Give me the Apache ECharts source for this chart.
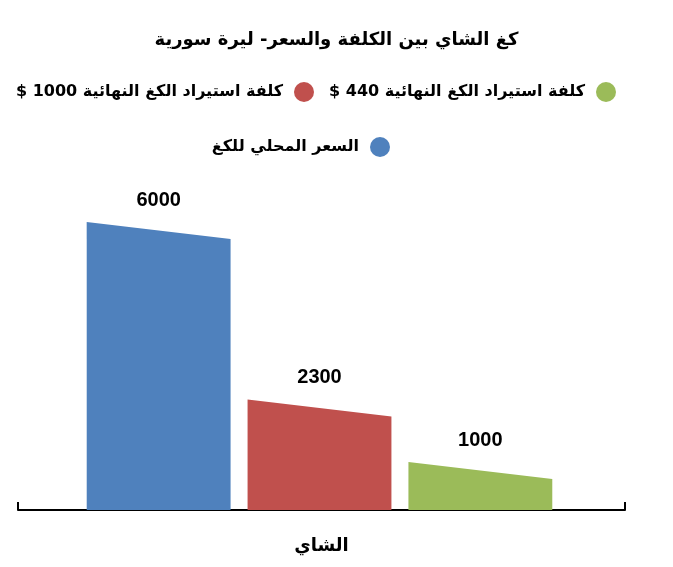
<!DOCTYPE html>
<html>
<head>
<meta charset="utf-8">
<script src="https://cdn.jsdelivr.net/npm/echarts@6/dist/echarts.min.js"></script>
<style>
    html, body { margin: 0; padding: 0; background: #fff; }
    #chart { width: 673px; height: 567px; }
</style>
</head>
<body>
<div id="chart"></div>
<script>
const categories = ['الشاي'];
const seriesNames = [
    'السعر المحلي للكغ',
    'كلفة استيراد الكغ النهائية 1000 $',
    'كلفة استيراد الكغ النهائية 440 $',
];
const localPrice = [6000];
const import1000 = [2300];
const import440 = [1000];
const seriesColors = ['#4F81BD', '#C0504D', '#9BBB59'];

const ARABIC_FONT = '"DejaVu Sans", sans-serif';
const NUMBER_FONT = '"Liberation Sans", Arial, sans-serif';
const RLM = '\u200F';

/**
 * Bar with a sloping top: left edge at the value, right edge a bit lower.
 */
function slopedBar(params, api) {
    const cat = api.value(0);
    const val = api.value(1);
    const base = api.coord([cat, 0]);
    const top = api.coord([cat, val]);
    const band = api.size([1, 0])[0];
    const barW = band * 0.237;
    const gap = band * 0.028;
    const offset = (params.seriesIndex - 1) * (barW + gap) - 2;
    const x0 = base[0] + offset - barW / 2;
    const drop = 17;

    return {
        type: 'group',
        children: [
            {
                type: 'polygon',
                shape: {
                    points: [
                        [x0, base[1]],
                        [x0, top[1]],
                        [x0 + barW, top[1] + drop],
                        [x0 + barW, base[1]],
                    ],
                },
                style: { fill: seriesColors[params.seriesIndex] },
            },
            {
                type: 'text',
                x: x0 + barW / 2,
                y: top[1] - 22,
                style: {
                    text: String(val),
                    fill: '#000',
                    font: 'bold 20px ' + NUMBER_FONT,
                    align: 'center',
                    verticalAlign: 'middle',
                },
            },
        ],
    };
}

function toData(values) {
    return values.map((v, i) => [i, v]);
}

function legendAt(name, right, top) {
    return {
        data: [name],
        right,
        top,
        align: 'right',
        icon: 'circle',
        itemWidth: 20,
        itemHeight: 20,
        selectedMode: false,
        // keep the "$" on the left as in right-to-left text
        formatter: (n) => RLM + n + RLM,
        textStyle: {
            fontFamily: ARABIC_FONT,
            fontWeight: 'bold',
            fontSize: 16,
            color: '#000',
            padding: [0, 6, 0, 0],
        },
    };
}

const chart = echarts.init(document.getElementById('chart'));

chart.setOption({
    backgroundColor: '#fff',
    animation: false,
    title: {
        text: 'كغ الشاي بين الكلفة والسعر- ليرة سورية',
        left: 'center',
        top: 26,
        textStyle: {
            fontFamily: ARABIC_FONT,
            fontWeight: 'bold',
            fontSize: 18,
            color: '#000',
        },
    },
    legend: [
        legendAt(seriesNames[2], 52, 77),
        legendAt(seriesNames[1], 354, 77),
        legendAt(seriesNames[0], 278, 132),
    ],
    grid: { left: 18, right: 48, top: 150, bottom: 57 },
    xAxis: {
        type: 'category',
        data: categories,
        axisLine: { lineStyle: { color: '#000', width: 2 } },
        axisTick: { show: true, inside: true, length: 8, lineStyle: { color: '#000', width: 2 } },
        axisLabel: {
            margin: 27,
            fontFamily: ARABIC_FONT,
            fontWeight: 'bold',
            fontSize: 18,
            color: '#000',
        },
    },
    yAxis: {
        type: 'value',
        min: 0,
        max: 7500,
        show: false,
        splitLine: { show: false },
    },
    series: [
        { name: seriesNames[0], type: 'custom', renderItem: slopedBar, data: toData(localPrice), itemStyle: { color: seriesColors[0] }, encode: { x: 0, y: 1 } },
        { name: seriesNames[1], type: 'custom', renderItem: slopedBar, data: toData(import1000), itemStyle: { color: seriesColors[1] }, encode: { x: 0, y: 1 } },
        { name: seriesNames[2], type: 'custom', renderItem: slopedBar, data: toData(import440), itemStyle: { color: seriesColors[2] }, encode: { x: 0, y: 1 } },
    ],
});
</script>
</body>
</html>
